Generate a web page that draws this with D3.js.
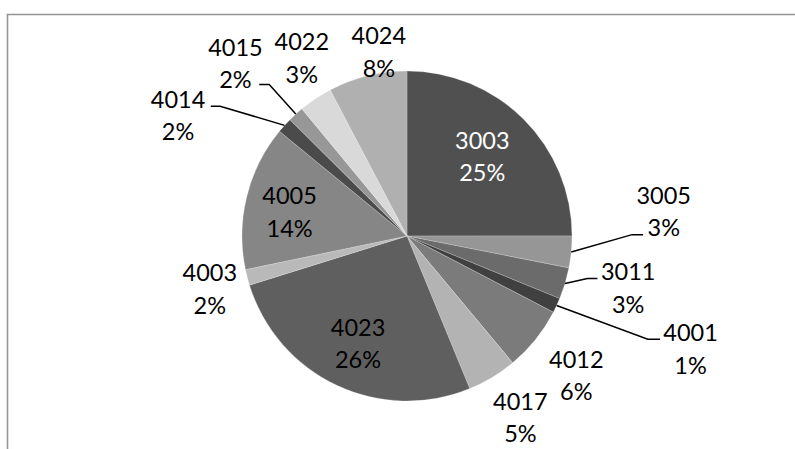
<!DOCTYPE html>
<html>
<head>
<meta charset="utf-8">
<script src="https://cdn.jsdelivr.net/npm/d3@7/dist/d3.min.js"></script>
<style>
  html, body { margin: 0; padding: 0; background: #fff; }
  svg { display: block; }
  text { font-family: Lato, "Noto Sans", sans-serif; font-size: 23.5px; }
</style>
</head>
<body>
<svg id="chart" width="795" height="449"></svg>
<script>
// Product codes and their share of the total, clockwise from 12 o'clock
const categories = ["3003", "3005", "3011", "4001", "4012", "4017", "4023",
                    "4003", "4005", "4014", "4015", "4022", "4024"];
const shares = [25.0, 3.1, 3.1, 1.45, 6.3, 4.85, 26.4,
                1.55, 14.2, 1.52, 1.55, 3.3, 7.7];
const fills = ["#505050", "#969696", "#6b6b6b", "#404040", "#7b7b7b", "#b3b3b3", "#5f5f5f",
               "#b9b9b9", "#868686", "#4b4b4b", "#979797", "#d9d9d9", "#b0b0b0"];

// Label placement: polar offset from each slice's mid angle (degrees) and distance
const labelLayout = {
  "3003": { r: 110, da: -1.8, color: "#fff" },
  "3005": { r: 258, da: -11.2, leader: { dx: -20.7, dy: 24, elbow: -11 } },
  "3011": { r: 227, da: -3.7, leader: { dx: -30.7, dy: -8.7, elbow: -10 } },
  "4001": { r: 305, da: -3.3, leader: { dx: -30.5, dy: -9, elbow: -12.3 } },
  "4012": { r: 219, da: 0.5 },
  "4017": { r: 213.5, da: -1 },
  "4023": { r: 117.4, da: -0.5 },
  "4003": { r: 204, da: -0.3 },
  "4005": { r: 120, da: -1.9 },
  "4014": { r: 259, da: -14.2, leader: { dx: 32.7, dy: -8.6, elbow: 9.3 } },
  "4015": { r: 244, da: -2.3, leader: { dx: 23.8, dy: 22, elbow: 10 } },
  "4022": { r: 207.5, da: 3.2 },
  "4024": { r: 187, da: 5.2 }
};

const svg = d3.select("#chart");
const cx = 407, cy = 236, R = 165;

// Chart area frame (top and left edges are visible)
svg.append("path")
  .attr("d", "M7.5,449 V14.5 H795")
  .attr("fill", "none")
  .attr("stroke", "#959595")
  .attr("stroke-width", 1.6);

const data = categories.map((c, i) => ({ name: c, value: shares[i], fill: fills[i] }));
const total = d3.sum(shares);

const pie = d3.pie().sort(null).value(d => d.value);
const arc = d3.arc().innerRadius(0).outerRadius(R);
const arcs = pie(data);

const g = svg.append("g").attr("transform", `translate(${cx},${cy})`);

g.selectAll("path.slice")
  .data(arcs)
  .join("path")
  .attr("class", "slice")
  .attr("d", arc)
  .attr("fill", d => d.data.fill)
  .attr("stroke", "rgba(255,255,255,0.35)")
  .attr("stroke-width", 0.6);

const polar = (a, r) => [r * Math.sin(a), -r * Math.cos(a)];
const rad = deg => deg * Math.PI / 180;

arcs.forEach(d => {
  const lay = labelLayout[d.data.name];
  const mid = (d.startAngle + d.endAngle) / 2;
  const [lx, ly] = polar(mid + rad(lay.da), lay.r);
  const pct = Math.round(d.data.value / total * 100) + "%";

  if (lay.leader) {
    const [sx, sy] = polar(mid, R);
    const ex = lx + lay.leader.dx, ey = ly + lay.leader.dy;
    const bx = ex + lay.leader.elbow;
    g.append("path")
      .attr("d", `M${sx},${sy} L${bx},${ey} L${ex},${ey}`)
      .attr("fill", "none")
      .attr("stroke", "#000")
      .attr("stroke-width", 1.5);
  }

  const t = g.append("text")
    .attr("text-anchor", "middle")
    .attr("fill", lay.color || "#000");
  t.append("tspan").attr("x", lx).attr("y", ly - 7).text(d.data.name);
  t.append("tspan").attr("x", lx).attr("y", ly + 25.5).text(pct);
});
</script>
</body>
</html>
